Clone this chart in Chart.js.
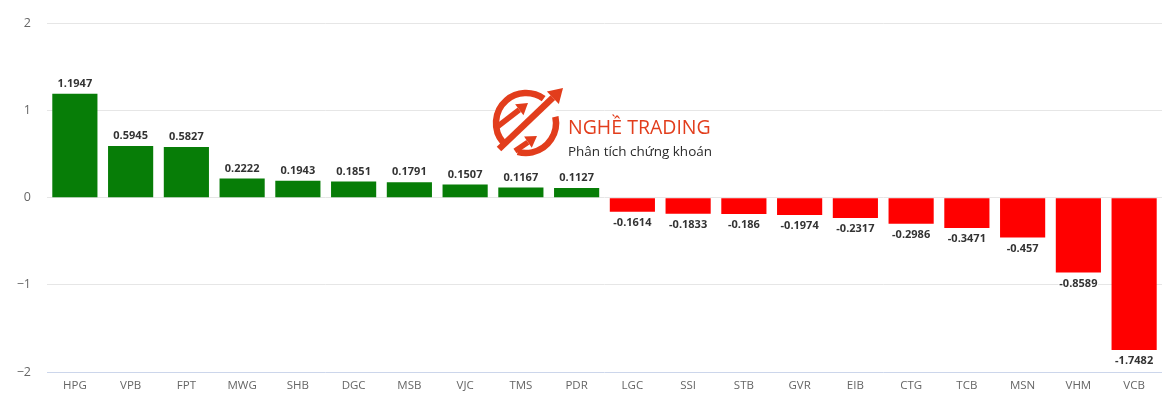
<!DOCTYPE html>
<html>
<head>
<meta charset="utf-8">
<script src="https://cdn.jsdelivr.net/npm/chart.js@4.4.1/dist/chart.umd.min.js"></script>
<style>
  html, body { margin:0; padding:0; background:#fff; }
  #wrap { position:relative; width:1170px; height:399px; }
</style>
</head>
<body>
<div id="wrap"><canvas id="ch"></canvas></div>
<script>
const tickers = ['HPG','VPB','FPT','MWG','SHB','DGC','MSB','VJC','TMS','PDR','LGC','SSI','STB','GVR','EIB','CTG','TCB','MSN','VHM','VCB'];
const impact = [1.1947,0.5945,0.5827,0.2222,0.1943,0.1851,0.1791,0.1507,0.1167,0.1127,-0.1614,-0.1833,-0.186,-0.1974,-0.2317,-0.2986,-0.3471,-0.457,-0.8589,-1.7482];
const yTicks = [-2,-1,0,1,2];
const brandName = 'NGHỀ TRADING';
const brandSub = 'Phân tích chứng khoán';

const GREEN = '#077d07', RED = '#ff0000';

// watermark logo, drawn under the bars
const logo = {
  id:'logo',
  beforeDatasetsDraw(chart){
    const c = chart.ctx, cx = 526, cy = 123, r = 30;
    const col = '#e23d1c';
    c.save();
    c.fillStyle = '#fff';
    c.beginPath(); c.arc(cx, cy, r+2, 0, Math.PI*2); c.fill();
    c.strokeStyle = col; c.fillStyle = col; c.lineWidth = 6.5; c.lineCap = 'butt';
    const rad = d => d*Math.PI/180;
    c.beginPath(); c.arc(cx, cy, r, rad(139), rad(306)); c.stroke();
    c.beginPath(); c.arc(cx, cy, r, rad(-12), rad(106)); c.stroke();
    const arrow = (x1,y1,x2,y2,w,h) => {
      const a = Math.atan2(y2-y1, x2-x1);
      const bx = x2 - h*Math.cos(a), by = y2 - h*Math.sin(a);
      c.lineWidth = w;
      c.beginPath(); c.moveTo(x1,y1); c.lineTo(bx,by); c.stroke();
      c.beginPath(); c.moveTo(x2,y2);
      c.lineTo(bx + h*0.62*Math.sin(a), by - h*0.62*Math.cos(a));
      c.lineTo(bx - h*0.62*Math.sin(a), by + h*0.62*Math.cos(a));
      c.closePath(); c.fill();
    };
    arrow(499,149,563,88,6.5,14);
    arrow(497,127,528,103,5.5,11);
    arrow(515,151,537,136,5.5,11);
    c.textAlign = 'left'; c.textBaseline = 'alphabetic';
    c.fillStyle = col;
    c.font = '19.5px "Open Sans", sans-serif';
    c.fillText(brandName, 568, 134, 144);
    c.fillStyle = '#2b2b2b';
    c.font = '13.5px "Open Sans", sans-serif';
    c.fillText(brandSub, 568, 156, 144);
    c.restore();
  }
};

// value labels with white halo
const valueLabels = {
  id:'valueLabels',
  afterDatasetsDraw(chart){
    const c = chart.ctx, meta = chart.getDatasetMeta(0);
    c.save();
    c.font = 'bold 11px "Open Sans", sans-serif';
    c.textAlign = 'center'; c.textBaseline = 'middle';
    c.lineJoin = 'round';
    meta.data.forEach((bar, i) => {
      const v = impact[i];
      const y = v >= 0 ? bar.y - 10 : bar.y + 11;
      const t = String(v);
      c.strokeStyle = '#fff'; c.lineWidth = 2;
      c.strokeText(t, bar.x, y);
      c.fillStyle = '#333';
      c.fillText(t, bar.x, y);
    });
    c.restore();
  }
};

new Chart(document.getElementById('ch'), {
  type:'bar',
  data:{ labels:tickers, datasets:[{ data:impact, backgroundColor:impact.map(v => v >= 0 ? GREEN : RED), borderWidth:0, categoryPercentage:1, barPercentage:0.81 }] },
  options:{
    responsive:true, maintainAspectRatio:false, animation:false,
    layout:{ padding:{ top:20, right:8, left:0, bottom:0 } },
    plugins:{ legend:{display:false}, tooltip:{enabled:false} },
    scales:{
      x:{
        grid:{ display:false, drawTicks:false },
        border:{ display:false },
        ticks:{ color:'#666', font:{ family:'"Open Sans", sans-serif', size:11.5 }, padding:7, maxRotation:0 },
        afterFit(s){ s.height = 27; }
      },
      y:{
        min:-2, max:2,
        afterBuildTicks(s){ s.ticks = yTicks.map(v => ({value:v})); },
        grid:{ color: ctx => ctx.tick && ctx.tick.value === -2 ? '#ccd6eb' : '#e6e6e6', drawTicks:false },
        border:{ display:false },
        ticks:{ color:'#666', font:{ family:'"Open Sans", sans-serif', size:12.5 }, padding:16, callback: v => v < 0 ? '\u2212' + Math.abs(v) : v },
        afterFit(s){ s.width = 47; }
      }
    }
  },
  plugins:[logo, valueLabels]
});
</script>
</body>
</html>
